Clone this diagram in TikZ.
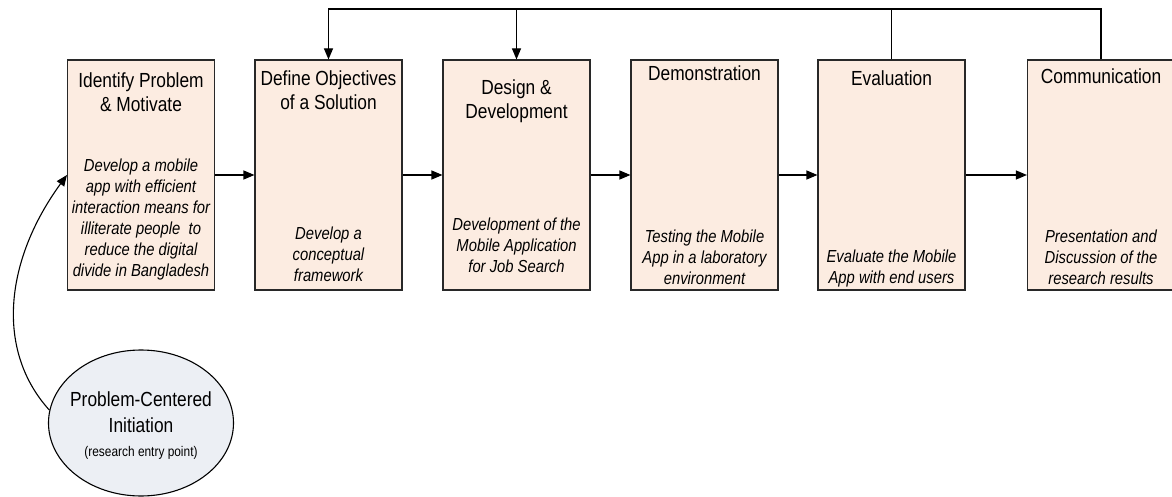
\documentclass[tikz,border=0pt]{standalone}
\usepackage{fontspec}
\setmainfont{Liberation Sans}[FakeStretch=0.85]
\usetikzlibrary{arrows.meta,shapes.geometric}
\definecolor{stagefill}{RGB}{252,236,225}
\definecolor{entryfill}{RGB}{236,239,244}
\definecolor{edge}{RGB}{40,40,40}
\begin{document}
\begin{tikzpicture}[x=1pt,y=-1pt,
  stage/.style={draw=edge,fill=stagefill,line width=1.1pt,minimum width=147pt,minimum height=230pt,inner sep=0pt},
  title/.style={anchor=north,inner sep=0pt,align=center,font=\fontsize{20.4}{24}\selectfont},
  desc/.style={anchor=north,inner sep=0pt,align=center,font=\fontsize{17.4}{21}\selectfont\itshape},
  flow/.style={draw=black,line width=1.1pt,-{Triangle[length=11pt,width=9pt]}},
  plain/.style={draw=black,line width=1.1pt},
  entry/.style={ellipse,draw=black,fill=entryfill,line width=1.1pt,minimum width=185pt,minimum height=146pt,inner sep=0pt},
  entrytext/.style={anchor=north,inner sep=0pt,align=center,font=\fontsize{20.4}{26}\selectfont}]
\useasboundingbox (0,0) rectangle (1172,497);

% process stages
\node[stage] (b1) at (141,175) {};
\node[stage] (b2) at (328.5,175) {};
\node[stage] (b3) at (516.5,175) {};
\node[stage] (b4) at (704.5,175) {};
\node[stage] (b5) at (891.5,175) {};
\node[stage] (b6) at (1101,175) {};

% stage headings
\node[title] (t1) at (141,73) {Identify Problem\\\& Motivate};
\node[title] (t2) at (328.5,71) {Define Objectives\\of a Solution};
\node[title] (t3) at (516.5,80) {Design \&\\Development};
\node[title] (t4) at (704.5,66) {Demonstration};
\node[title] (t5) at (891.5,71) {Evaluation};
\node[title] (t6) at (1101,69) {Communication};

% stage activities
\node[desc] (d1) at (141,159) {Develop a mobile\\app with efficient\\interaction means for\\illiterate people\ \ to\\reduce the digital\\divide in Bangladesh};
\node[desc] (d2) at (328.5,227) {Develop a\\conceptual\\framework};
\node[desc] (d3) at (516.5,218) {Development of the\\Mobile Application\\for Job Search};
\node[desc] (d4) at (704.5,230) {Testing the Mobile\\App in a laboratory\\environment};
\node[desc] (d5) at (891.5,250) {Evaluate the Mobile\\App with end users};
\node[desc] (d6) at (1101,230) {Presentation and\\Discussion of the\\research results};

% entry point
\node[entry] (e) at (141,423) {};
\node[entrytext] (et) at (141,392) {Problem-Centered\\Initiation\\[-2pt]{\fontsize{14}{16}\selectfont (research entry point)}};

% sequence
\draw[flow] (b1.east) -- (b2.west);
\draw[flow] (b2.east) -- (b3.west);
\draw[flow] (b3.east) -- (b4.west);
\draw[flow] (b4.east) -- (b5.west);
\draw[flow] (b5.east) -- (b6.west);

% iteration loops
\coordinate (top) at (0,9);
\draw[flow] (b6.north) |- (b2.north |- top) -- (b2.north);
\draw[flow] (b3.north |- top) -- (b3.north);
\draw[plain] (b5.north) -- (b5.north |- top);

% entry into the process
\draw[flow] (e.172) .. controls (-5,350) and (5,260) .. (b1.west);
\end{tikzpicture}
\end{document}
